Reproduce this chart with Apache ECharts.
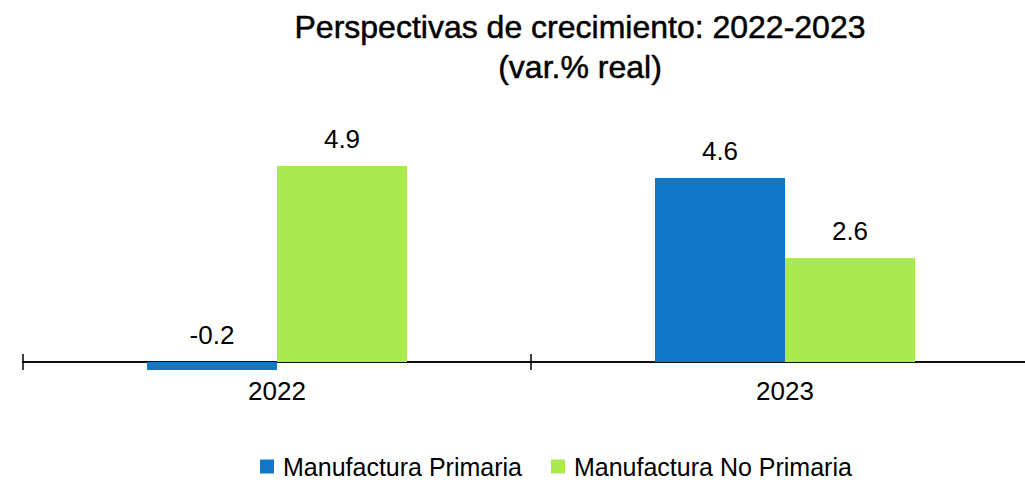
<!DOCTYPE html>
<html>
<head>
<meta charset="utf-8">
<script src="https://cdn.jsdelivr.net/npm/echarts@6/dist/echarts.min.js"></script>
<style>
  html, body { margin: 0; padding: 0; background: #fff; }
  #chart { width: 1025px; height: 483px; }
</style>
</head>
<body>
<div id="chart"></div>
<script>
// Data
const categories = ['2022', '2023'];
const primaria = [-0.2, 4.6];
const noPrimaria = [4.9, 2.6];
const seriesNames = ['Manufactura Primaria', 'Manufactura No Primaria'];

const FONT = "'Liberation Sans', Arial, sans-serif";
const BLUE = '#0f78c8';
const GREEN = '#aaea50';

const chart = echarts.init(document.getElementById('chart'), null, { renderer: 'svg' });

const labelStyle = { show: true, position: 'top', distance: 14, color: '#000', fontSize: 26, fontFamily: FONT };

// two identical y axes so that both x axes can sit on zero (ticks crossing the line)
const yAxisBase = { type: 'value', min: -1, max: 6, show: false, splitLine: { show: false } };
const tickLine = { color: '#000', width: 1.5 };

chart.setOption({
  animation: false,
  textStyle: { fontFamily: FONT },
  title: {
    text: 'Perspectivas de crecimiento: 2022-2023\n(var.% real)',
    left: 575,
    textAlign: 'center',
    top: 2,
    textStyle: {
      fontSize: 32, fontWeight: 'normal', color: '#000', lineHeight: 40, fontFamily: FONT,
      textBorderColor: '#000', textBorderWidth: 0.5
    }
  },
  legend: {
    top: 449,
    left: 255,
    padding: 5,
    itemWidth: 14,
    itemHeight: 14,
    itemGap: 29,
    icon: 'rect',
    textStyle: { fontSize: 25, lineHeight: 25, color: '#000', fontFamily: FONT, padding: [0, 0, 0, 4] },
    data: seriesNames
  },
  grid: { left: 23, width: 1016, top: 122, height: 280, outerBoundsMode: 'none' },
  xAxis: [{
    type: 'category',
    data: categories,
    axisLine: { onZero: true, onZeroAxisIndex: 0, lineStyle: tickLine },
    axisTick: { show: true, length: 8, lineStyle: tickLine },
    axisLabel: { show: false }
  }, {
    type: 'category',
    data: categories,
    position: 'bottom',
    axisLine: { onZero: true, onZeroAxisIndex: 1, lineStyle: tickLine },
    axisTick: { show: true, inside: true, length: 8, lineStyle: tickLine },
    // labels are laid out from the grid bottom, pull them up under the zero line
    axisLabel: { fontSize: 26, color: '#000', margin: -24, fontFamily: FONT }
  }],
  yAxis: [Object.assign({}, yAxisBase), Object.assign({}, yAxisBase)],
  series: [{
    name: seriesNames[0],
    type: 'bar',
    data: primaria,
    barWidth: 130,
    barGap: '0%',
    itemStyle: { color: BLUE },
    label: labelStyle
  }, {
    name: seriesNames[1],
    type: 'bar',
    data: noPrimaria,
    barWidth: 130,
    barGap: '0%',
    itemStyle: { color: GREEN },
    label: labelStyle
  }]
});
</script>
</body>
</html>
